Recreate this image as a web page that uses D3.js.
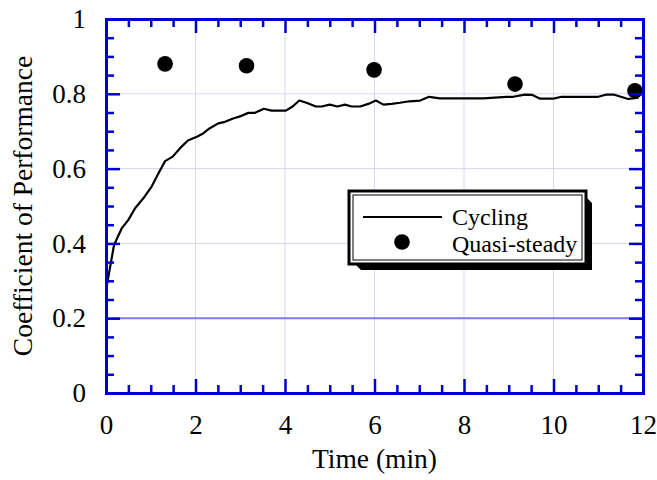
<!DOCTYPE html>
<html>
<head>
<meta charset="utf-8">
<script src="https://cdn.jsdelivr.net/npm/d3@7"></script>
<style>
  body { margin: 0; background: #fff; }
  svg text { font-family: "Liberation Serif", "Times New Roman", serif; fill: #000; }
</style>
</head>
<body>
<div id="chart"></div>
<script>
// cycling curve
let cycT = [0, 0.18, 0.35, 0.5, 0.65, 0.83, 1.02, 1.17, 1.32, 1.49, 1.65, 1.83, 2.03, 2.17, 2.32, 2.51, 2.66, 2.84, 3.03, 3.18, 3.33, 3.53, 3.7, 4.02, 4.17, 4.32, 4.48, 4.69, 4.82, 5.0, 5.17, 5.34, 5.49, 5.68, 5.86, 6.03, 6.2, 6.38, 6.57, 6.78, 7.02, 7.22, 7.46, 7.83, 8.43, 8.95, 9.1, 9.36, 9.53, 9.7, 10.0, 10.18, 11.0, 11.19, 11.34, 11.67, 11.9];
let cycCop = [0.275, 0.396, 0.44, 0.463, 0.494, 0.52, 0.552, 0.587, 0.62, 0.632, 0.654, 0.675, 0.685, 0.694, 0.708, 0.721, 0.725, 0.734, 0.741, 0.749, 0.749, 0.76, 0.755, 0.755, 0.766, 0.782, 0.776, 0.766, 0.766, 0.771, 0.766, 0.771, 0.766, 0.766, 0.773, 0.782, 0.771, 0.773, 0.776, 0.78, 0.782, 0.792, 0.788, 0.788, 0.788, 0.792, 0.792, 0.798, 0.797, 0.787, 0.787, 0.792, 0.792, 0.798, 0.798, 0.786, 0.79];

let qsT = [1.32, 3.14, 5.99, 9.14, 11.82];
let qsCop = [0.88, 0.875, 0.864, 0.826, 0.808];

let xTicks = [0, 2, 4, 6, 8, 10, 12];
let yTicks = [0, 0.2, 0.4, 0.6, 0.8, 1];
let legendLabels = ['Cycling', 'Quasi-steady'];

let size = {width: 657, height: 480};
let margins = {top: 19, right: 14, bottom: 87, left: 106};
let w = size.width - margins.left - margins.right;
let h = size.height - margins.top - margins.bottom;
let axisBlue = '#0000cc';

let svg = d3.select('#chart').append('svg')
  .attr('width', size.width)
  .attr('height', size.height);

let g = svg.append('g').attr('transform', `translate(${margins.left},${margins.top})`);

let x = d3.scaleLinear().domain([0, 12]).range([0, w]);
let y = d3.scaleLinear().domain([0, 1]).range([h, 0]);

// light grid
g.append('g').selectAll('line').data(xTicks.slice(1, -1)).enter().append('line')
  .attr('x1', d => x(d)).attr('x2', d => x(d))
  .attr('y1', 0).attr('y2', h)
  .attr('stroke', '#d6d6f6').attr('stroke-width', 1);
g.append('g').selectAll('line').data(yTicks.slice(1, -1)).enter().append('line')
  .attr('x1', 0).attr('x2', w)
  .attr('y1', d => y(d)).attr('y2', d => y(d))
  .attr('stroke', '#d6d6f6').attr('stroke-width', 1);

// the 0.2 line
g.append('line')
  .attr('x1', 0).attr('x2', w)
  .attr('y1', y(0.2)).attr('y2', y(0.2))
  .attr('stroke', '#7c7ce8').attr('stroke-width', 2);

// cycling curve
let line = d3.line().x(d => x(d[0])).y(d => y(d[1]));
g.append('path')
  .datum(d3.zip(cycT, cycCop))
  .attr('d', line)
  .attr('fill', 'none')
  .attr('stroke', '#000')
  .attr('stroke-width', 2.2)
  .attr('stroke-linejoin', 'round');

// quasi-steady points
g.append('g').selectAll('circle').data(d3.zip(qsT, qsCop)).enter().append('circle')
  .attr('cx', d => x(d[0]))
  .attr('cy', d => y(d[1]))
  .attr('r', 7.8)
  .attr('fill', '#000');

// axes, ticks pointing inward on all four sides
let xMinor = d3.range(0, 12.01, 0.5).filter(v => v % 2 !== 0);
let yMinor = d3.range(0, 1.001, 0.05).map(v => +v.toFixed(2)).filter(v => Math.round(v * 100) % 20 !== 0);

function styleAxis(sel) {
  sel.attr('font-size', null).attr('font-family', null);
  sel.selectAll('.domain').attr('stroke', axisBlue).attr('stroke-width', 3);
  sel.selectAll('.tick line').attr('stroke', axisBlue).attr('stroke-width', 2.5);
  sel.selectAll('.tick text').style('font-size', '27px');
}

function addAxis(axis, ticks, len, transform, labels, pad) {
  let a = axis.tickValues(ticks).tickSize(-len).tickPadding(pad || 0);
  if (!labels) a.tickFormat('');
  let s = g.append('g').attr('transform', transform).call(a);
  styleAxis(s);
  return s;
}

addAxis(d3.axisBottom(x), xMinor, 8, `translate(0,${h})`, false);
addAxis(d3.axisTop(x), xMinor, 8, 'translate(0,0)', false);
addAxis(d3.axisLeft(y), yMinor, 8, 'translate(0,0)', false);
addAxis(d3.axisRight(y), yMinor, 8, `translate(${w},0)`, false);

addAxis(d3.axisBottom(x), xTicks, 14, `translate(0,${h})`, true, 22);
addAxis(d3.axisTop(x), xTicks, 14, 'translate(0,0)', false);
addAxis(d3.axisLeft(y).tickFormat(d3.format('')), yTicks, 14, 'translate(0,0)', true, 20);
addAxis(d3.axisRight(y), yTicks, 14, `translate(${w},0)`, false);

// axis titles
svg.append('text')
  .attr('x', margins.left + w / 2)
  .attr('y', 468)
  .attr('text-anchor', 'middle')
  .style('font-size', '27.5px')
  .text('Time (min)');

svg.append('text')
  .attr('transform', `translate(32,${margins.top + h / 2}) rotate(-90)`)
  .attr('text-anchor', 'middle')
  .style('font-size', '27.5px')
  .text('Coefficient of Performance');

// legend box with drop shadow
let lg = svg.append('g').attr('transform', 'translate(349,191)');
let lw = 237, lh = 73, off = 6;
lg.append('path')
  .attr('d', `M${off},${lh} L${lw},${lh} L${lw},${off} L${lw + off},${off + off} L${lw + off},${lh + off} L${off + off},${lh + off} Z`)
  .attr('fill', '#000');
lg.append('rect')
  .attr('width', lw).attr('height', lh)
  .attr('fill', '#fff').attr('stroke', '#000').attr('stroke-width', 3);
lg.append('rect')
  .attr('x', 4).attr('y', 4)
  .attr('width', lw - 8).attr('height', lh - 8)
  .attr('fill', 'none').attr('stroke', '#000').attr('stroke-width', 1);

lg.append('line')
  .attr('x1', 14).attr('x2', 93)
  .attr('y1', 26).attr('y2', 26)
  .attr('stroke', '#000').attr('stroke-width', 2.2);
lg.append('circle')
  .attr('cx', 53).attr('cy', 51)
  .attr('r', 7.8).attr('fill', '#000');

lg.selectAll('text.lab').data(legendLabels).enter().append('text')
  .attr('class', 'lab')
  .attr('x', 103)
  .attr('y', (d, i) => 34 + i * 26.5)
  .style('font-size', '24px')
  .text(d => d);
</script>
</body>
</html>
